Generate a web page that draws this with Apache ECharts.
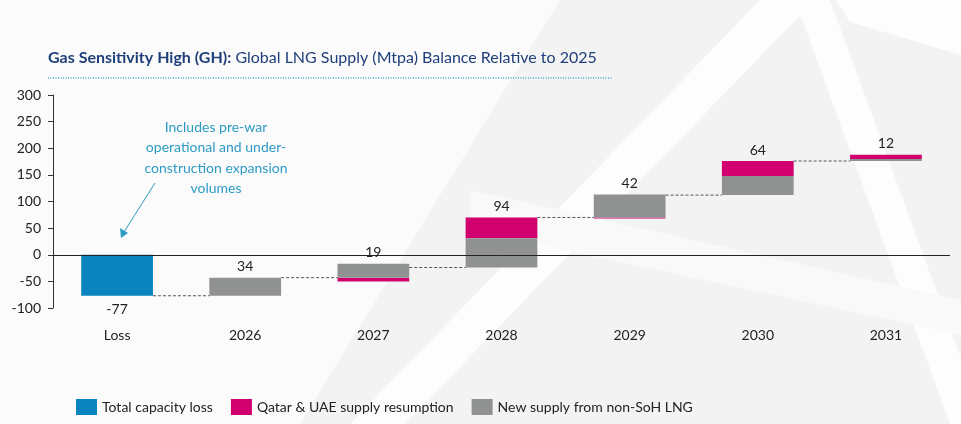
<!DOCTYPE html>
<html>
<head>
<meta charset="utf-8">
<script src="https://cdn.jsdelivr.net/npm/echarts@6/dist/echarts.min.js"></script>
<style>
  html, body { margin: 0; padding: 0; }
  #chart { width: 961px; height: 424px; }
</style>
</head>
<body>
<div id="chart"></div>
<script>
// Gas Sensitivity High - LNG supply waterfall
var categories = ["Loss", "2026", "2027", "2028", "2029", "2030", "2031"];
var capacityLoss = [-77, 0, 0, 0, 0, 0, 0];
var qatarUae = [0, 0, -7, 39, -1, 28, 8];
var newSupply = [0, 34, 26, 55, 43, 36, 4];
var yTicks = { min: -100, max: 300, interval: 50 };

var FONT = "Lato";
var colors = { loss: "#0a84bf", qatar: "#d2006e", supply: "#909191" };

// build floating blocks: positives stack up from the start level, negatives stack down
var blocks = { loss: [], qatar: [], supply: [] };
var totals = [];
var connectors = [];
var level = 0;
categories.forEach(function (cat, i) {
  var up = level, down = level;
  [["loss", capacityLoss[i]], ["supply", newSupply[i]], ["qatar", qatarUae[i]]].forEach(function (p) {
    var v = p[1];
    if (v > 0) {
      blocks[p[0]].push([i, up, up + v]);
      up += v;
    } else if (v < 0) {
      blocks[p[0]].push([i, down + v, down]);
      down += v;
    }
  });
  var total = capacityLoss[i] + qatarUae[i] + newSupply[i];
  totals.push([i, total >= 0 ? up : down, total]);
  level += total;
  if (i < categories.length - 1) connectors.push([i, level]);
});

var BAR = 0.56;

function renderBlock(params, api) {
  var top = api.coord([api.value(0), api.value(2)]);
  var bottom = api.coord([api.value(0), api.value(1)]);
  var w = api.size([1, 0])[0] * BAR;
  return {
    type: "rect",
    shape: { x: top[0] - w / 2, y: top[1], width: w, height: Math.max(bottom[1] - top[1], 1) },
    style: api.style(),
  };
}

function renderConnector(params, api) {
  var a = api.coord([api.value(0), api.value(1)]);
  var b = api.coord([api.value(0) + 1, api.value(1)]);
  var w = api.size([1, 0])[0] * BAR;
  return {
    type: "line",
    shape: { x1: a[0] + w / 2, y1: a[1], x2: b[0] - w / 2, y2: b[1] },
    style: { stroke: "#555", lineWidth: 1, lineDash: [3, 2] },
  };
}

function renderTotal(params, api) {
  var total = api.value(2);
  var p = api.coord([api.value(0), api.value(1)]);
  return {
    type: "text",
    x: p[0],
    y: total >= 0 ? p[1] - 11 : p[1] + 14,
    style: {
      text: String(total),
      fill: "#222",
      font: "14px " + FONT,
      align: "center",
      verticalAlign: "middle",
    },
  };
}

var chart = echarts.init(document.getElementById("chart"));

chart.setOption({
  backgroundColor: "#f3f3f4",
  textStyle: { fontFamily: FONT },
  animation: false,
  title: {
    left: 43,
    top: 45,
    text: "{b|Gas Sensitivity High (GH):}{n| Global LNG Supply (Mtpa) Balance Relative to 2025}",
    textStyle: {
      fontWeight: "normal",
      rich: {
        b: { fontFamily: FONT, fontSize: 16, fontWeight: "bold", color: "#1f3f7a" },
        n: { fontFamily: FONT, fontSize: 16, fontWeight: "normal", color: "#1f3f7a" },
      },
    },
  },
  graphic: [
    // faint background shapes
    { type: "polygon", z: -10, shape: { points: [[0, 0], [560, 0], [300, 424], [0, 424]] }, style: { fill: "#fbfbfb" } },
    { type: "polygon", z: -10, shape: { points: [[760, 0], [815, 0], [405, 424], [350, 424]] }, style: { fill: "#fdfdfd" } },
    { type: "polygon", z: -10, shape: { points: [[795, 0], [830, 0], [985, 424], [950, 424]] }, style: { fill: "#fdfdfd" } },
    { type: "polygon", z: -10, shape: { points: [[835, 0], [961, 0], [961, 55], [850, 22]] }, style: { fill: "#fdfdfd" } },
    { type: "polygon", z: -10, shape: { points: [[470, 190], [961, 300], [961, 335], [470, 230]] }, style: { fill: "#f9f9f9" } },
    // dotted underline of the title
    {
      type: "line",
      shape: { x1: 48, y1: 78, x2: 612, y2: 78 },
      style: { stroke: "#4aa6d2", lineWidth: 1.5, lineDash: [1, 1.5] },
    },
    // annotation
    {
      type: "text",
      x: 216,
      y: 117,
      style: {
        text: "Includes pre-war\noperational and under-\nconstruction expansion\nvolumes",
        fill: "#2e9bc6",
        font: "14px " + FONT,
        align: "center",
        lineHeight: 20.5,
      },
    },
    { type: "line", shape: { x1: 155, y1: 183, x2: 124, y2: 232 }, style: { stroke: "#2e9bc6", lineWidth: 1 } },
    { type: "polygon", shape: { points: [[121, 238], [120, 228], [128, 233]] }, style: { fill: "#2e9bc6" } },
  ],
  legend: {
    left: 71,
    top: 394,
    itemWidth: 21,
    itemHeight: 16,
    itemGap: 18,
    icon: "rect",
    textStyle: { fontFamily: FONT, fontSize: 14, color: "#222" },
    data: ["Total capacity loss", "Qatar & UAE supply resumption", "New supply from non-SoH LNG"],
  },
  grid: { left: 53, right: 11, top: 95, bottom: 116 },
  xAxis: {
    type: "category",
    data: categories,
    axisLine: { show: false, onZero: false },
    axisTick: { show: false },
    axisLabel: { margin: 20, fontSize: 14, color: "#222", fontFamily: FONT },
  },
  yAxis: {
    type: "value",
    min: yTicks.min,
    max: yTicks.max,
    interval: yTicks.interval,
    axisLine: { show: true, lineStyle: { color: "#333" } },
    axisTick: { show: true, length: 5, lineStyle: { color: "#333" } },
    axisLabel: { fontSize: 14, color: "#222", margin: 12, fontFamily: FONT },
    splitLine: { show: false },
  },
  series: [
    {
      name: "Total capacity loss",
      type: "custom",
      renderItem: renderBlock,
      itemStyle: { color: colors.loss },
      encode: { x: 0, y: [1, 2] },
      data: blocks.loss,
    },
    {
      name: "Qatar & UAE supply resumption",
      type: "custom",
      renderItem: renderBlock,
      itemStyle: { color: colors.qatar },
      encode: { x: 0, y: [1, 2] },
      data: blocks.qatar,
    },
    {
      name: "New supply from non-SoH LNG",
      type: "custom",
      renderItem: renderBlock,
      itemStyle: { color: colors.supply },
      encode: { x: 0, y: [1, 2] },
      data: blocks.supply,
    },
    {
      name: "connectors",
      type: "custom",
      renderItem: renderConnector,
      encode: { x: 0, y: 1 },
      data: connectors,
      markLine: {
        silent: true,
        symbol: "none",
        label: { show: false },
        lineStyle: { color: "#222", type: "solid", width: 1 },
        data: [{ yAxis: 0 }],
      },
    },
    {
      name: "totals",
      type: "custom",
      renderItem: renderTotal,
      encode: { x: 0, y: 1 },
      data: totals,
      z: 5,
    },
  ],
});
</script>
</body>
</html>
